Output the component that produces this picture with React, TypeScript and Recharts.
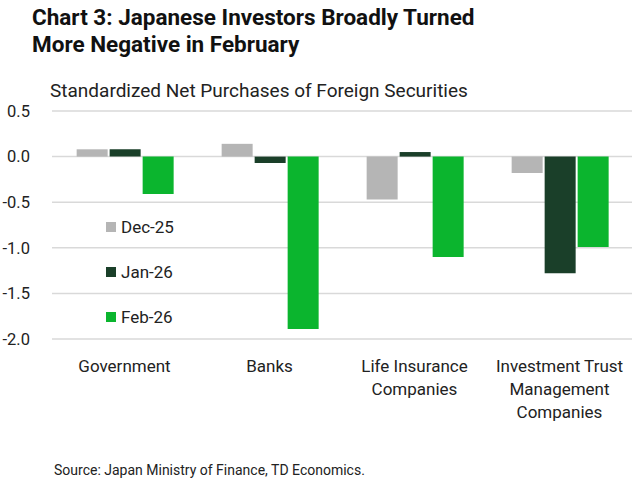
import React from "react";
import { Bar, BarChart, CartesianGrid, Legend, XAxis, YAxis } from "recharts";

const categories = [
  ["Government"],
  ["Banks"],
  ["Life Insurance", "Companies"],
  ["Investment Trust", "Management", "Companies"],
];
const dec25 = [0.08, 0.14, -0.47, -0.18];
const jan26 = [0.08, -0.07, 0.05, -1.28];
const feb26 = [-0.41, -1.89, -1.1, -0.99];
const yTicks = [0.5, 0, -0.5, -1, -1.5, -2];

const series = [
  { key: "dec", name: "Dec-25", color: "#b5b5b5", values: dec25 },
  { key: "jan", name: "Jan-26", color: "#1a3f29", values: jan26 },
  { key: "feb", name: "Feb-26", color: "#0bb52e", values: feb26 },
];

const data = categories.map((lines, i) => ({
  label: lines.join("\n"),
  dec: dec25[i],
  jan: jan26[i],
  feb: feb26[i],
}));

const FONT = "Roboto, 'Noto Sans', sans-serif";
const INK = "#222";

function CategoryTick({ x, y, payload }: any) {
  const lines = String(payload.value).split("\n");
  return (
    <text x={x} y={y} textAnchor="middle" fill={INK} fontSize={17} fontFamily={FONT}>
      {lines.map((line, i) => (
        <tspan key={i} x={x} dy={i === 0 ? 25 : 23}>
          {line}
        </tspan>
      ))}
    </text>
  );
}

function LegendBody() {
  return (
    <div style={{ fontFamily: FONT, fontSize: 17, color: INK }}>
      {series.map((s) => (
        <div key={s.key} style={{ display: "flex", alignItems: "center", height: 45 }}>
          <span style={{ width: 10, height: 10, background: s.color, marginRight: 5, display: "inline-block" }} />
          <span>{s.name}</span>
        </div>
      ))}
    </div>
  );
}

export default function App() {
  return (
    <div style={{ position: "absolute", left: 0, top: 0, width: 642, height: 489, background: "#fff", fontFamily: FONT }}>
      <div style={{ position: "absolute", left: 32, top: 4, fontSize: 22.5, fontWeight: 700, lineHeight: "27px", color: "#111" }}>
        Chart 3: Japanese Investors Broadly Turned
        <br />
        More Negative in February
      </div>
      <div style={{ position: "absolute", left: 50, top: 79, fontSize: 19, color: INK }}>
        Standardized Net Purchases of Foreign Securities
      </div>
      <BarChart
        width={642}
        height={489}
        data={data}
        margin={{ top: 111, right: 10, left: 0, bottom: 50 }}
        barCategoryGap="17%"
        barGap={2}
      >
        <CartesianGrid vertical={false} stroke="#d9d9d9" strokeWidth={1.5} />
        <XAxis
          dataKey="label"
          axisLine={false}
          tickLine={false}
          interval={0}
          height={100}
          tick={<CategoryTick />}
        />
        <YAxis
          domain={[-2, 0.5]}
          ticks={yTicks}
          width={52}
          axisLine={false}
          tickLine={false}
          tickFormatter={(v: number) => v.toFixed(1)}
          tick={{ fill: INK, fontSize: 16.5, fontFamily: FONT }}
          tickMargin={16}
        />
        <Legend
          content={<LegendBody />}
          layout="vertical"
          align="center"
          verticalAlign="middle"
          wrapperStyle={{ position: "absolute", left: 106, top: 204, width: 100 }}
        />
        {series.map((s) => (
          <Bar key={s.key} dataKey={s.key} name={s.name} fill={s.color} isAnimationActive={false} />
        ))}
      </BarChart>
      <div style={{ position: "absolute", left: 54, top: 462, fontSize: 14, color: INK }}>
        Source: Japan Ministry of Finance, TD Economics.
      </div>
    </div>
  );
}
